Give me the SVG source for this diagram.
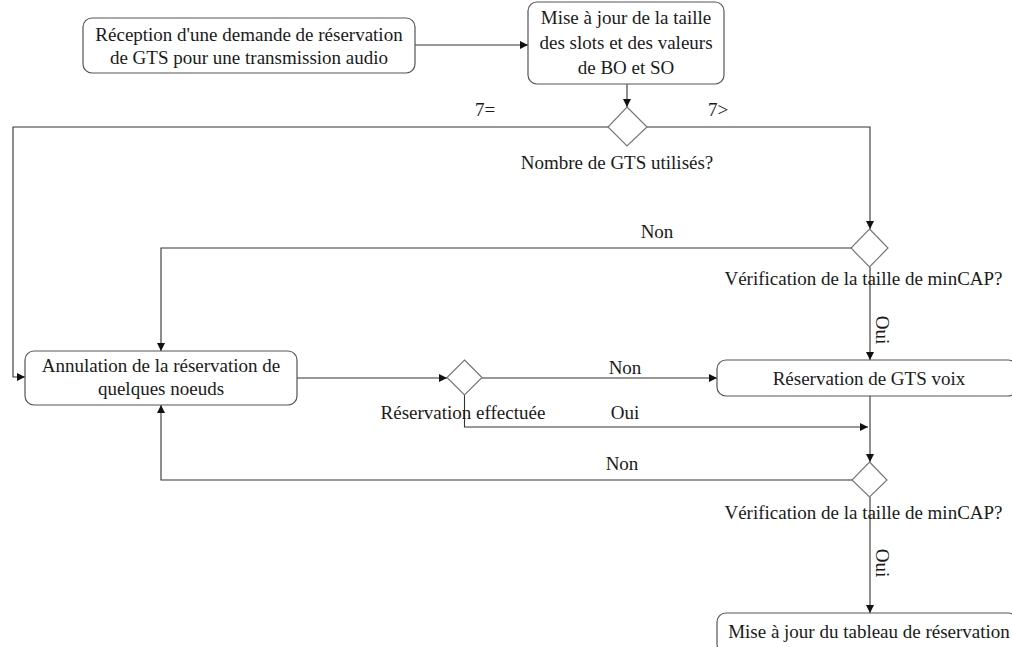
<svg xmlns="http://www.w3.org/2000/svg" width="1012" height="647" viewBox="0 0 1012 647">
<defs>
<marker id="ah" viewBox="0 0 10 10" refX="10" refY="5" markerWidth="10" markerHeight="8" markerUnits="userSpaceOnUse" orient="auto">
<path d="M0,0 L10,5 L0,10 z" fill="#111"/>
</marker>
<style>
.box{fill:#fff;stroke:#555;stroke-width:1.2}
.dia{fill:#fff;stroke:#777;stroke-width:1.2}
.ln{fill:none;stroke:#333;stroke-width:1.1}
.t{font-family:"Liberation Serif","Times New Roman",serif;font-size:19px;fill:#1a1a1a;text-anchor:middle}
</style>
</defs>
<rect width="1012" height="647" fill="#fff"/>
<g id="connectors">
<path class="ln" d="M415,45 L528,45" marker-end="url(#ah)"/>
<path class="ln" d="M627,84 L627,107" marker-end="url(#ah)"/>
<path class="ln" d="M608,127 L13,127 L13,377 L25,377" marker-end="url(#ah)"/>
<path class="ln" d="M647,127 L870,127 L870,229" marker-end="url(#ah)"/>
<path class="ln" d="M851,248 L161,248 L161,351" marker-end="url(#ah)"/>
<path class="ln" d="M870,267 L870,360" marker-end="url(#ah)"/>
<path class="ln" d="M297,378 L447,378" marker-end="url(#ah)"/>
<path class="ln" d="M482,378 L717,378" marker-end="url(#ah)"/>
<path class="ln" d="M464.5,395 L464.5,427 L868,427" marker-end="url(#ah)"/>
<path class="ln" d="M870,396 L870,462" marker-end="url(#ah)"/>
<path class="ln" d="M852,480 L161,480 L161,405" marker-end="url(#ah)"/>
<path class="ln" d="M870,497 L870,613" marker-end="url(#ah)"/>
<text class="t" x="485" y="116">7=</text>
<text class="t" x="718" y="116">7&gt;</text>
<text class="t" x="657" y="238">Non</text>
<text class="t" x="625" y="374">Non</text>
<text class="t" x="625" y="419">Oui</text>
<text class="t" x="622" y="470">Non</text>
<text class="t" transform="translate(876,330) rotate(90)">Oui</text>
<text class="t" transform="translate(876,563) rotate(90)">Oui</text>
</g>
<g id="n1">
<rect class="box" x="83" y="18" width="332" height="55" rx="9"/>
<text class="t" x="249" y="41">Réception d'une demande de réservation</text>
<text class="t" x="249" y="64">de GTS pour une transmission audio</text>
</g>
<g id="n2">
<rect class="box" x="528" y="2" width="196" height="82" rx="9"/>
<text class="t" x="626" y="24">Mise à jour de la taille</text>
<text class="t" x="626" y="49">des slots et des valeurs</text>
<text class="t" x="626" y="74">de BO et SO</text>
</g>
<g id="d1">
<path class="dia" d="M627,107 L647,127 L627,146 L608,127 z"/>
<text class="t" x="617" y="169">Nombre de GTS utilisés?</text>
</g>
<g id="d2">
<path class="dia" d="M869.5,229 L888,248 L869.5,267 L851,248 z"/>
<text class="t" x="863.5" y="285">Vérification de la taille de minCAP?</text>
</g>
<g id="n3">
<rect class="box" x="25" y="351" width="272" height="54" rx="9"/>
<text class="t" x="161" y="372">Annulation de la réservation de</text>
<text class="t" x="161" y="395">quelques noeuds</text>
</g>
<g id="d3">
<path class="dia" d="M464.5,360 L482,377.5 L464.5,395 L447,377.5 z"/>
<text class="t" x="463" y="419">Réservation effectuée</text>
</g>
<g id="n4">
<rect class="box" x="717" y="360" width="300" height="36" rx="9"/>
<text class="t" x="869" y="385">Réservation de GTS voix</text>
</g>
<g id="d4">
<path class="dia" d="M869.5,462 L887,480 L869.5,497 L852,480 z"/>
<text class="t" x="863.5" y="519">Vérification de la taille de minCAP?</text>
</g>
<g id="n5">
<rect class="box" x="717" y="613" width="300" height="40" rx="9"/>
<text class="t" x="869" y="638">Mise à jour du tableau de réservation</text>
</g>
</svg>
